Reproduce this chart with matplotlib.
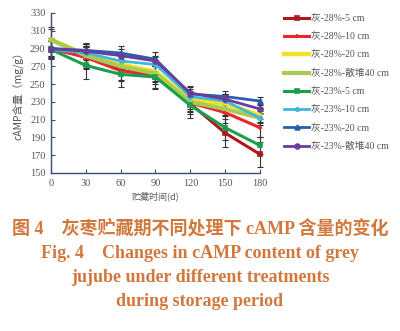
import matplotlib
matplotlib.use("Agg")
import matplotlib.pyplot as plt
import numpy as np

days = [0, 30, 60, 90, 120, 150, 180]
labels = ["灰-28%-5 cm", "灰-28%-10 cm", "灰-28%-20 cm", "灰-28%-散堆40 cm",
          "灰-23%-5 cm", "灰-23%-10 cm", "灰-23%-20 cm", "灰-23%-散堆40 cm"]
values = [
    [290, 281, 266, 258, 228, 195, 171],
    [290, 280, 265, 260, 229, 218, 201],
    [300, 283, 272, 264, 232, 228, 215],
    [300, 282, 270, 262, 230, 222, 212],
    [289, 271, 261, 258, 226, 201, 181],
    [289, 285, 276, 272, 236, 231, 212],
    [290, 288, 285, 278, 239, 236, 231],
    [290, 287, 282, 276, 240, 233, 222],
]
errors = [
    [12, 14, 12, 14, 12, 16, 14],
    [10, 12, 10, 10, 10, 12, 10],
    [14, 10, 12, 10, 10, 10, 8],
    [12, 10, 10, 10, 10, 8, 8],
    [10, 15, 14, 12, 14, 14, 10],
    [10, 8, 8, 8, 8, 8, 6],
    [8, 8, 8, 8, 8, 6, 4],
    [8, 8, 8, 6, 8, 6, 6],
]
colors = ["#b0171f", "#e8262b", "#f2e227", "#a6cc52", "#1a9e4f", "#3fb8e0", "#2b5fad", "#6a3d9a"]
markers = ["s", "+", None, "x", "s", "*", "^", "o"]
widths = [2.2, 2.2, 3.2, 3.0, 2.2, 2.0, 2.0, 2.0]

fig = plt.figure(figsize=(4.0, 3.31), dpi=100)
ax = fig.add_axes([51 / 400, 1 - 173 / 331, 209 / 400, 160 / 331])

handles = []
for vals, err, c, m, w, lab in zip(values, errors, colors, markers, widths, labels):
    ax.errorbar(days, vals, yerr=err, fmt="none", ecolor="#333333", elinewidth=0.8,
                capsize=2.5, capthick=0.8, zorder=2, clip_on=False)
    ln, = ax.plot(days, vals, color=c, lw=w, marker=m, markersize=3.5,
                  markeredgewidth=1.2, label=lab, zorder=3, clip_on=False)
    handles.append(ln)

ax.set_xlim(0, 180)
ax.set_ylim(150, 330)
ax.set_xticks(days)
ax.set_yticks(np.arange(150, 331, 20))
for s in ["top", "right"]:
    ax.spines[s].set_visible(False)
for s in ["left", "bottom"]:
    ax.spines[s].set_color("#3b4a7a")
    ax.spines[s].set_linewidth(1.0)
ax.tick_params(direction="in", length=3, color="#3b4a7a", labelsize=7.5,
               labelcolor="#555555", pad=4)
for t in ax.get_xticklabels() + ax.get_yticklabels():
    t.set_family("Liberation Serif")

ax.set_ylabel("cAMP含量（mg/g）", fontsize=7.5, color="#555555",
              family=["Noto Sans CJK SC", "DejaVu Sans"], labelpad=4)
ax.set_xlabel("贮藏时间(d)", fontsize=6.5, color="#555555",
              family=["Noto Sans CJK SC", "DejaVu Sans"], labelpad=3)

leg = fig.legend(handles=handles, loc="upper left", bbox_to_anchor=(280 / 400, 1 - 10 / 331),
                 frameon=False, handlelength=2.6, labelspacing=0.95,
                 handletextpad=0.2, borderaxespad=0,
                 prop={"family": ["Liberation Serif", "Noto Sans CJK SC"], "size": 7})
for t in leg.get_texts():
    t.set_color("#555555")

cap = "#d2783c"
fig.text(0.5, 1 - 228 / 331, "图 4　灰枣贮藏期不同处理下 cAMP 含量的变化", ha="center", va="center",
         fontsize=13, color=cap, fontweight="bold",
         family=["Liberation Serif", "Noto Sans CJK SC"])
for y, line in [(253, "Fig. 4    Changes in cAMP content of grey"),
                (277, "jujube under different treatments"),
                (301, "during storage period")]:
    fig.text(0.5, 1 - y / 331, line, ha="center", va="center", fontsize=13,
             color=cap, fontweight="bold", family="Liberation Serif")

fig.savefig("out.png", dpi=100)
